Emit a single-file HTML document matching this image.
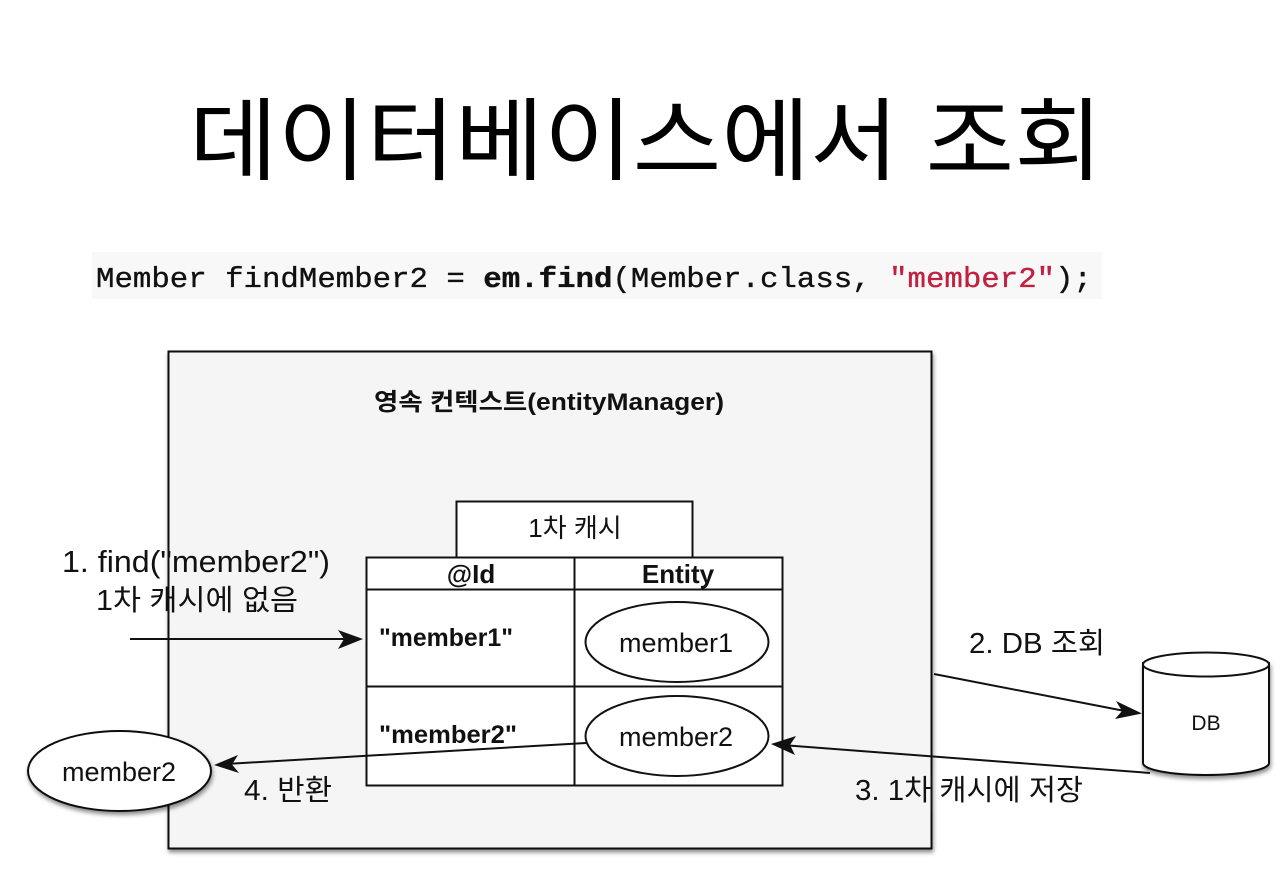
<!DOCTYPE html>
<html><head><meta charset="utf-8"><style>
html,body{margin:0;padding:0;background:#fff;width:1280px;height:894px;overflow:hidden}
svg{display:block}
text{font-family:"Liberation Sans","Noto Sans CJK KR",sans-serif;fill:#111}
.m{font-family:"Liberation Mono",monospace;font-size:29px;stroke:#111;stroke-width:.35px}
</style></head><body>
<svg width="1280" height="894" viewBox="0 0 1280 894" xmlns="http://www.w3.org/2000/svg">
<defs>
<filter id="s" x="-10%" y="-10%" width="120%" height="120%"><feDropShadow dx="1" dy="3" stdDeviation="2" flood-color="#000" flood-opacity=".45"/></filter>
</defs>
<text x="189" y="172.5" font-size="90" textLength="914" lengthAdjust="spacingAndGlyphs" style="font-weight:400;fill:#000">데이터베이스에서 조회</text>
<rect x="92" y="252" width="1010" height="47" fill="#f8f8f8"/>
<text x="96" y="287" class="m" textLength="996" lengthAdjust="spacingAndGlyphs">Member findMember2 = <tspan font-weight="bold">em.find</tspan>(Member.class, <tspan style="fill:#c0213f;stroke:#c0213f">"member2"</tspan>);</text>

<rect x="168.5" y="351.5" width="763" height="497" fill="#f5f5f5" stroke="#111" stroke-width="2" filter="url(#s)"/>
<text x="549" y="410" font-size="24" font-weight="bold" text-anchor="middle" textLength="350" lengthAdjust="spacingAndGlyphs">영속 컨텍스트(entityManager)</text>

<rect x="456.5" y="501.5" width="236" height="56" fill="#fff" stroke="#111" stroke-width="2"/>
<text x="575" y="537" font-size="26" text-anchor="middle">1차 캐시</text>
<rect x="366.5" y="557.5" width="416" height="228" fill="#fff" stroke="#111" stroke-width="2"/>
<path d="M366 589.5H783M366 686.5H783M574.5 557V786" stroke="#111" stroke-width="2" fill="none"/>
<text x="471" y="583" font-size="26" font-weight="bold" text-anchor="middle">@Id</text>
<text x="678" y="583" font-size="26" font-weight="bold" text-anchor="middle">Entity</text>
<text x="379" y="646" font-size="25" font-weight="bold" textLength="134" lengthAdjust="spacingAndGlyphs">"member1"</text>
<text x="379" y="743" font-size="25" font-weight="bold" textLength="138" lengthAdjust="spacingAndGlyphs">"member2"</text>
<ellipse cx="677" cy="642" rx="91.500" ry="40" fill="#fff" stroke="#111" stroke-width="2"/>
<text x="676" y="652" font-size="27" text-anchor="middle">member1</text>
<ellipse cx="677" cy="736" rx="91.500" ry="40" fill="#fff" stroke="#111" stroke-width="2"/>
<text x="676" y="746" font-size="27" text-anchor="middle">member2</text>

<ellipse cx="119.500" cy="771" rx="91.500" ry="40" fill="#fff" stroke="#111" stroke-width="2" filter="url(#s)"/>
<text x="119" y="781" font-size="27" text-anchor="middle">member2</text>

<path d="M1143 662V763C1143 770 1172 775 1206 775S1269 770 1269 763V662" fill="#fff" stroke="#111" stroke-width="2" filter="url(#s)"/>
<ellipse cx="1206" cy="664.500" rx="63" ry="12" fill="#fff" stroke="#111" stroke-width="2"/>
<text x="1206" y="730" font-size="21" text-anchor="middle">DB</text>

<path d="M130 639H352" stroke="#111" stroke-width="2" fill="none"/>
<path d="M363 639L338 630L344 639L338 649Z" fill="#111"/>
<path d="M934 674L1130 712" stroke="#111" stroke-width="2" fill="none"/>
<path d="M1142 713.500L1116 701L1122 711L1115 719Z" fill="#111"/>
<path d="M1150 773L782 745" stroke="#111" stroke-width="2" fill="none"/>
<path d="M771 744L796 736L790 745L795 755Z" fill="#111"/>
<path d="M586 743L226 764" stroke="#111" stroke-width="2" fill="none"/>
<path d="M214 765L238 755L232 764.500L239 773Z" fill="#111"/>

<text x="62" y="572" font-size="31" textLength="268" lengthAdjust="spacingAndGlyphs">1. find("member2")</text>
<text x="96" y="610" font-size="29" textLength="202" lengthAdjust="spacingAndGlyphs">1차 캐시에 없음</text>
<text x="969" y="653" font-size="29" textLength="136" lengthAdjust="spacingAndGlyphs">2. DB 조회</text>
<text x="855" y="800" font-size="29" textLength="228" lengthAdjust="spacingAndGlyphs">3. 1차 캐시에 저장</text>
<text x="244" y="800" font-size="29" textLength="88" lengthAdjust="spacingAndGlyphs">4. 반환</text>
<path d="M168.500 545V620" stroke="#111" stroke-width="2" fill="none"/>
<path d="M931.500 775V810" stroke="#111" stroke-width="2" fill="none"/>
</svg>
</body></html>
